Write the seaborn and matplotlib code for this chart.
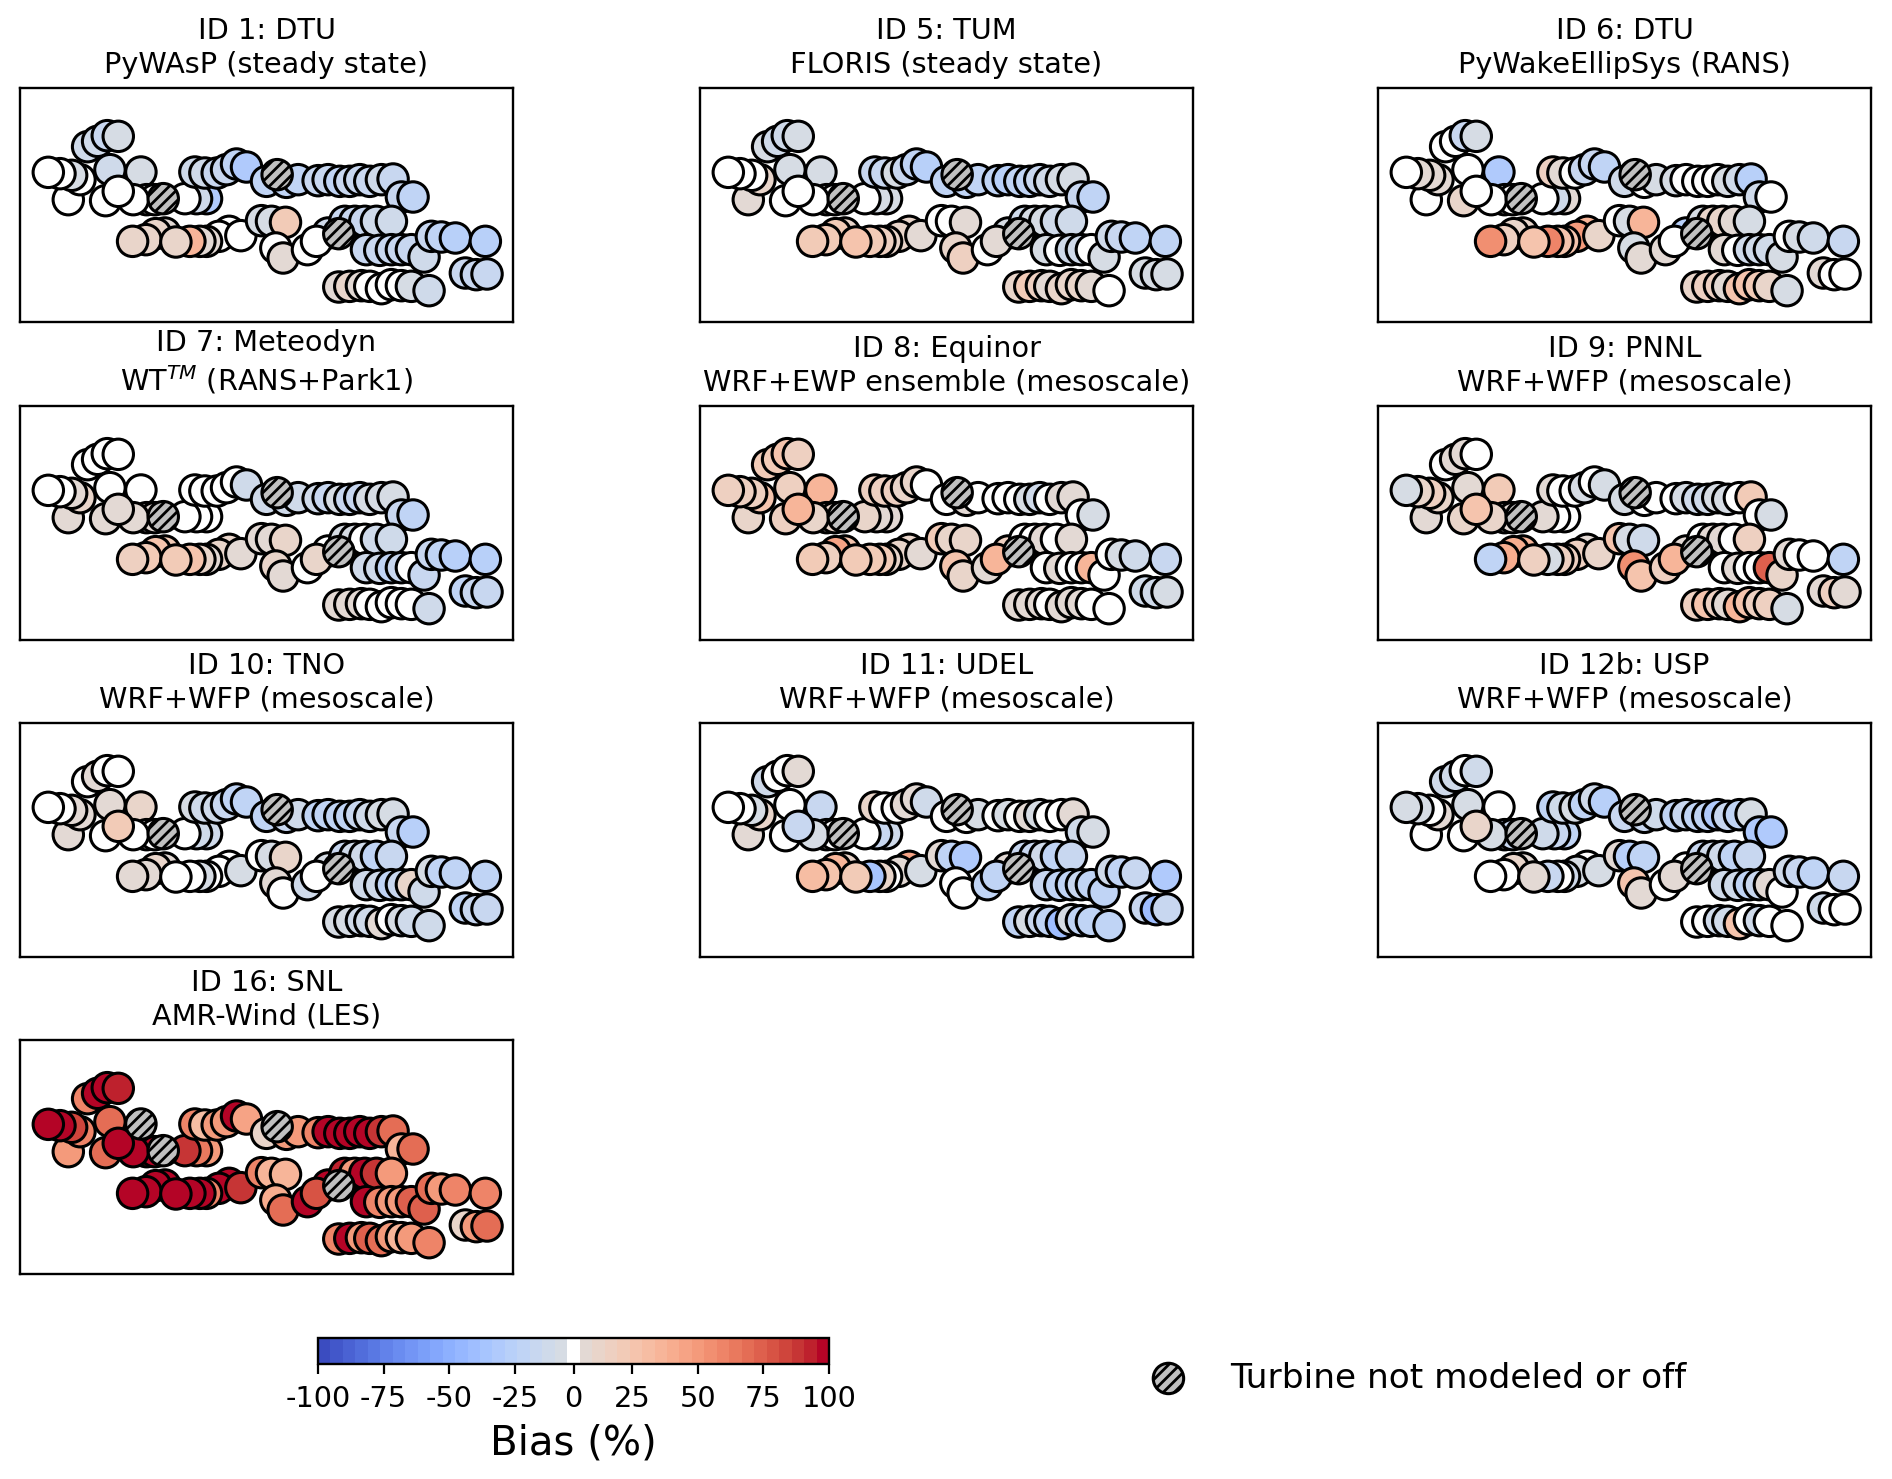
import matplotlib
matplotlib.use("Agg")
import matplotlib.pyplot as plt
import numpy as np
import pandas as pd
import seaborn as sns
from matplotlib.colors import BoundaryNorm, ListedColormap
from matplotlib.cm import ScalarMappable

sns.set_theme(style="white", font="DejaVu Sans", rc={"axes.edgecolor": "black", "axes.linewidth": 0.85,
                                                     "hatch.linewidth": 1.0, "xtick.color": "black",
                                                     "text.color": "black", "axes.labelcolor": "black"})

# turbine layout
x_pos = [218, 248, 277, 310, 160, 195, 170, 135, 100, 285, 378, 395, 420, 272, 355, 310, 575, 545, 510,
         540, 570, 607, 635, 665, 695, 755, 815, 850, 910, 940, 975, 1005, 1035, 1065, 1100, 1135, 1160, 1195,
         643, 612, 678, 575, 555, 525, 450, 422, 393, 353, 483, 740, 770, 812, 783, 805, 940, 878, 905,
         990, 1020, 1050, 1085, 1130, 1055, 1095, 1130, 1160, 1190, 1228, 1250, 1280, 1322, 1412,
         1352, 1385, 1417, 972, 1005, 1040, 1065, 1100, 1130, 1160, 1190, 1243]
y_pos = [186, 170, 153, 155, 345, 285, 272, 267, 263, 255, 262, 345, 345, 348, 345, 320, 342, 342, 342,
         262, 265, 265, 255, 238, 247, 290, 293, 285, 288, 285, 290, 290, 285, 290, 285, 283, 337, 337,
         440, 455, 453, 470, 470, 470, 445, 447, 465, 470, 472, 408, 410, 413, 490, 520, 445, 495, 470,
         410, 410, 410, 410, 410, 495, 497, 495, 495, 495, 517, 455, 457, 460, 470,
         565, 570, 568, 607, 605, 603, 605, 612, 600, 603, 605, 618]
x_off = [445, 787, 972]
y_off = [342, 270, 447]

id1 = [-12, -12, -18, -7, 0, 0, -7, 0, 0, -12, -7, 0, 0, 0, 0, 0, -30, -12, 0,
       -12, -12, -18, -18, -24, -32, -24, -24, -24, -18, -18, -24, -18, -18, -18, -12, -18, -18, -24,
       0, 0, 0, 7, 7, 34, 7, 12, 12, 12, 12, -7, -7, 22, 0, 7, -12, 0, 0,
       -18, -18, -18, -12, -14, -18, -18, -18, -18, -18, -14, -18, -24, -28, -28,
       -18, -18, -18, 7, 12, 7, 0, 0, 0, 0, -7, -12]
id5 = [-7, -12, -14, -7, 7, 10, 0, 0, 0, -7, -7, 0, 0, 0, 0, 0, -7, -7, 0,
       -18, -18, -7, -18, -22, -28, -22, -22, -22, -22, -26, -22, -22, -18, -12, -7, -7, -18, -24,
       10, 14, 7, 12, 16, 20, 10, 22, 22, 22, 25, 0, 0, 7, 14, 16, -7, 0, 7,
       -12, -7, -7, -14, -12, -7, 0, -14, -14, 0, -7, -14, -18, -24, -24,
       -7, -7, -7, 14, 22, 16, 7, 12, 12, 12, 7, 0]
id6 = [0, 0, -18, -7, 0, 9, 9, 9, 0, 0, -32, 0, 0, 14, 0, 0, 9, -14, 0,
       16, 7, 0, -18, -18, -22, -12, 0, -7, -7, 0, 0, 0, 0, -7, -12, -28, -12, 0,
       36, 50, 14, 24, 24, 60, 10, 10, 18, 54, 26, 0, -7, 34, -7, 9, -28, 7, 0,
       -7, 12, 14, 7, -7, 9, 0, -12, -12, -12, -7, 0, -7, -12, -18,
       7, 0, 0, 14, 18, 16, 7, 24, 24, 20, 10, -7]
id7 = [0, 0, 0, 0, 7, 12, 7, 0, 0, 0, 0, 7, 7, 7, 7, 7, 0, 0, 0,
       0, 0, 0, 0, 0, -12, -12, -14, -12, -14, -18, -9, -18, -16, -9, -7, -7, -18, -22,
       10, 14, 7, 7, 12, 28, 22, 24, 20, 16, 22, 7, 7, 14, 14, 7, 0, 0, 14,
       -7, -7, 0, -12, -12, -12, -14, -20, -18, 0, -16, -18, -22, -26, -26,
       -22, -18, -18, 7, 7, 7, 0, 0, 0, 0, 0, -12]
id8 = [20, 20, 24, 16, 12, 26, 18, 18, 16, 18, 34, 12, 12, 16, 14, 36, 7, 7, 12,
       16, 18, 16, 12, 14, 0, 0, 7, 0, 0, 0, 0, -7, -10, 0, 7, 9, 0, -9,
       14, 14, 7, 10, 20, 22, 26, 46, 18, 20, 20, 20, 14, 14, 24, 14, 18, 7, 34,
       0, 0, 7, 0, 7, 0, 7, 0, 0, 36, 0, 0, -9, -12, -18,
       -14, -14, -9, 7, 9, 7, 0, 9, 7, 7, 0, 0]
id9 = [0, 7, 7, 0, 7, 12, 16, 14, -9, 7, 22, 9, 9, 10, 10, 24, 0, 0, 9,
       7, 0, 0, -9, 0, -9, -9, 0, 0, 0, -9, -12, -12, -9, -9, 0, 22, 0, -9,
       9, 18, 14, 18, 18, -9, 34, 42, 42, -20, 18, 26, -9, -14, 54, 24, 9, 18, 36,
       0, 7, 7, 0, 18, 0, 7, 0, 0, 76, 14, 7, 0, 0, -22,
       7, 16, 7, 16, 26, 16, 9, 36, 26, 18, 16, -9]
id10 = [0, 7, 0, 0, 7, 9, 7, 0, 0, 7, 14, 0, 0, 0, 0, 20, -12, -12, 0,
        -9, -12, -12, -16, -20, -22, -20, -16, -12, -20, -24, -22, -22, -18, -12, -9, -7, -18, -26,
        0, 0, -9, 0, -9, 0, 7, 12, 9, 7, 0, 0, -7, 10, 9, 0, -9, -12, 0,
        -18, -12, -12, -20, -18, -12, -14, -20, -18, 12, -12, -9, -20, -24, -24,
        -22, -18, -18, -9, -9, -12, -12, 7, 0, -9, -12, -12]
id11 = [-12, 0, 0, 7, 7, 12, -7, 0, 0, 0, -16, 0, 0, 0, -7, -16, -14, -16, 0,
        12, 0, 0, 7, 9, -14, 0, 0, -9, 0, -7, 0, 7, -9, 0, 0, 7, -12, -7,
        44, 9, -7, 0, 10, -36, 14, 36, 26, 30, 22, 7, -20, -30, 0, 0, 9, -20, -22,
        -18, -18, -14, -22, -18, -16, -20, -20, -18, -24, -24, -12, -24, -16, -30,
        -18, -42, -18, -20, -9, -16, -24, -40, -7, -20, -22, -24]
id12b = [-12, -12, 0, -12, 0, 7, 0, -9, -9, -9, 0, -18, -18, 0, -9, 14, -22, -18, -12,
         -22, -12, -9, -22, -12, -28, -18, -18, -14, -22, -18, -24, -24, -30, -18, -22, -7, -30, -32,
         0, -9, -7, -14, 0, -16, 7, 10, 0, 0, 7, 7, -26, -24, 24, 7, 0, 0, 9,
         -18, -14, -14, -24, -18, -14, -14, -20, -18, 7, 0, -12, -18, -24, -18,
         -14, 0, 0, 0, 0, -12, -12, 24, 0, -12, 0, 0]
id16 = [58, 98, 98, 94, 48, 58, 84, 98, 98, 70, np.nan, 98, 98, 68, 98, 98, 48, 62, 88,
        60, 32, 48, 52, 98, 46, 12, 48, 52, 60, 98, 98, 98, 98, 98, 88, 70, 38, 70,
        98, 98, 90, 60, 98, 98, 98, 98, 98, 98, 98, 58, 36, 34, 42, 68, 98, 98, 78,
        94, 52, 98, 86, 52, 98, 58, 48, 48, 72, 72, 70, 48, 58, 60,
        12, 48, 68, 58, 98, 48, 72, 68, 48, 38, 48, 58]

titles = ["ID 1: DTU\nPyWAsP (steady state)", "ID 5: TUM\nFLORIS (steady state)",
          "ID 6: DTU\nPyWakeEllipSys (RANS)", "ID 7: Meteodyn\nWT$^{TM}$ (RANS+Park1)",
          "ID 8: Equinor\nWRF+EWP ensemble (mesoscale)", "ID 9: PNNL\nWRF+WFP (mesoscale)",
          "ID 10: TNO\nWRF+WFP (mesoscale)", "ID 11: UDEL\nWRF+WFP (mesoscale)",
          "ID 12b: USP\nWRF+WFP (mesoscale)", "ID 16: SNL\nAMR-Wind (LES)"]
panels = [id1, id5, id6, id7, id8, id9, id10, id11, id12b, id16]
cbar_ticks = [-100, -75, -50, -25, 0, 25, 50, 75, 100]

W, H = 1892, 1479
fig = plt.figure(figsize=(W / 200, H / 200), dpi=200, facecolor="white")


def px_axes(left, top, width, height):
    return fig.add_axes([left / W, 1 - (top + height) / H, width / W, height / H])


# white band around zero, coolwarm everywhere else
levels = np.r_[np.linspace(-100, -5, 21), np.linspace(5, 100, 21)]
colors = plt.get_cmap("coolwarm", 41)(np.arange(41))
colors[20] = (1, 1, 1, 1)
cmap = ListedColormap(colors)
norm = BoundaryNorm(levels, cmap.N)

lefts = [20, 700, 1378]
tops = [88, 406, 723, 1040]
for i, (title, bias) in enumerate(zip(titles, panels)):
    ax = px_axes(lefts[i % 3], tops[i // 3], 493, 234)
    df = pd.DataFrame({"x": x_pos, "y": y_pos, "bias": bias})
    on = df.dropna()
    sns.scatterplot(data=on, x="x", y="y", hue="bias", palette=cmap, hue_norm=norm, s=120,
                    edgecolor="black", linewidth=1.1, legend=False, ax=ax, zorder=2)
    off = pd.concat([pd.DataFrame({"x": x_off, "y": y_off}), df[df["bias"].isna()][["x", "y"]]])
    sns.scatterplot(data=off, x="x", y="y", color="silver", s=120, edgecolor="black", linewidth=1.1,
                    hatch="//////", legend=False, ax=ax, zorder=3)
    ax.set_xlim(15, 1495)
    ax.set_ylim(712, 10)
    ax.set(xticks=[], yticks=[], xlabel="", ylabel="")
    ax.set_title(title, fontsize=10.35, pad=5.5, linespacing=1.24)

cax = px_axes(318, 1338, 511, 26)
cb = fig.colorbar(ScalarMappable(norm=norm, cmap=cmap), cax=cax, orientation="horizontal",
                  ticks=cbar_ticks, drawedges=False)
cb.ax.tick_params(labelsize=10.4, length=3.5, width=0.8, bottom=True, pad=4)
cb.ax.set_xticklabels([str(t) for t in cbar_ticks])
cb.set_label("Bias (%)", fontsize=14.5, labelpad=4)
cb.outline.set_linewidth(0.85)
cb.ax.minorticks_off()

fig.legend([ax.collections[-1]], ["Turbine not modeled or off"], frameon=False, fontsize=12.4,
           loc="center left", bbox_to_anchor=(1103 / W, 1 - 1378 / H), handletextpad=0.8)

fig.savefig("out.png", dpi=200)
